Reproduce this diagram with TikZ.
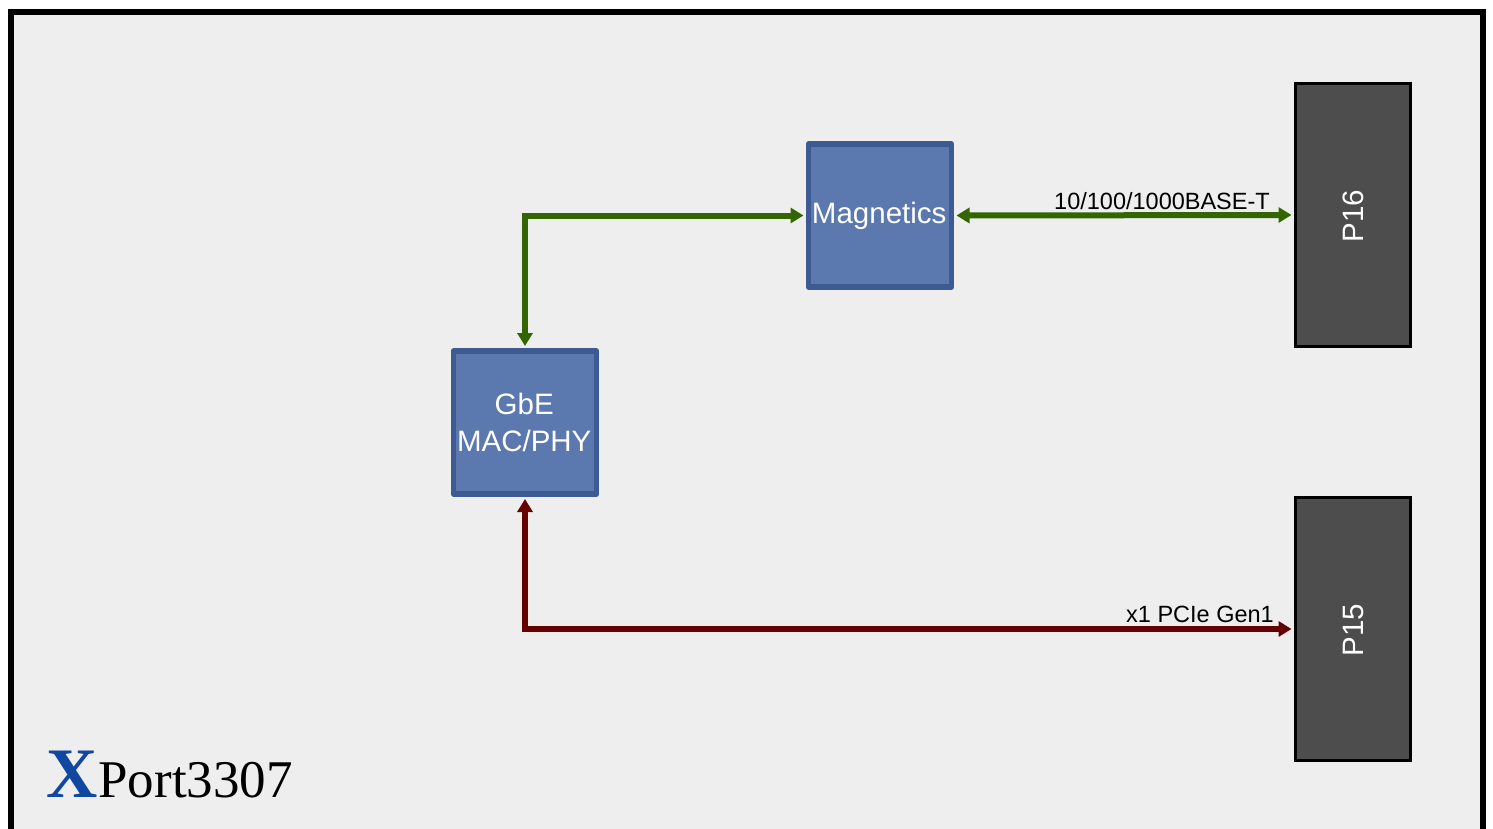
\documentclass[tikz,border=0pt]{standalone}
\usepackage{fontspec}
\setmainfont{Liberation Sans}
\newfontfamily\serifface{Liberation Serif}
\usetikzlibrary{arrows.meta}
\definecolor{bgc}{HTML}{EEEEEE}
\definecolor{boxf}{HTML}{5B78AF}
\definecolor{boxd}{HTML}{3D5A92}
\definecolor{conn}{HTML}{4D4D4D}
\definecolor{grn}{HTML}{336600}
\definecolor{dred}{HTML}{660000}
\definecolor{xblue}{HTML}{0F47A1}
\tikzset{
  x=1pt,y=-1pt,
  block/.style={draw=boxd,fill=boxf,line width=5.5pt,line join=round,minimum width=143pt,minimum height=143pt,inner sep=0pt,outer sep=5pt},
  blocktext/.style={text=white,align=center,inner sep=0pt,font=\fontsize{29.5}{37}\selectfont},
  connector/.style={draw=black,fill=conn,line width=3pt,minimum width=115pt,minimum height=263pt,inner sep=0pt,outer sep=4pt},
  conlabel/.style={text=white,rotate=90,font=\fontsize{29.5}{34}\selectfont,inner sep=0pt},
  wire/.style={line width=6pt,{Triangle[length=13pt,width=15pt]}-{Triangle[length=13pt,width=15pt]}},
  siglabel/.style={anchor=base,inner sep=0pt,font=\fontsize{23.5}{28}\selectfont}
}
\begin{document}
\begin{tikzpicture}
\useasboundingbox (0,0) rectangle (1493,829);
\clip (0,0) rectangle (1493,829);
\fill[white] (0,0) rectangle (1493,829);
\path[draw=black,fill=bgc,line width=6pt] (11,12) rectangle (1483,860);
\node[block] (mag) at (880,215.5) {};
\node[blocktext] (magt) at (879.2,216) {Magnetics};
\node[block] (gbe) at (525,422.5) {};
\node[blocktext] (gbet) at (524.2,422.5) {GbE\\MAC/PHY};
\node[connector] (p16) at (1353,215) {};
\node[connector] (p15) at (1353,629) {};
\node[conlabel] (p16t) at (1353,216.2) {P16};
\node[conlabel] (p15t) at (1353,630.2) {P15};
\draw[wire,draw=grn] (mag.west) -| (gbe.north);
\draw[wire,draw=grn] (mag.east) -- (p16.west);
\draw[wire,draw=dred] (gbe.south) |- (p15.west);
\node[siglabel] (l1) at (1162,209.5) {10/100/1000BASE-T};
\node[siglabel] (l2) at (1200,622.5) {x1 PCIe Gen1};
\node[anchor=base west,inner sep=0pt] (logo) at (46,797) {\serifface\fontsize{71}{71}\selectfont\textcolor{xblue}{\bfseries X}\kern1pt\fontsize{53}{53}\selectfont Port3307};
\end{tikzpicture}
\end{document}
